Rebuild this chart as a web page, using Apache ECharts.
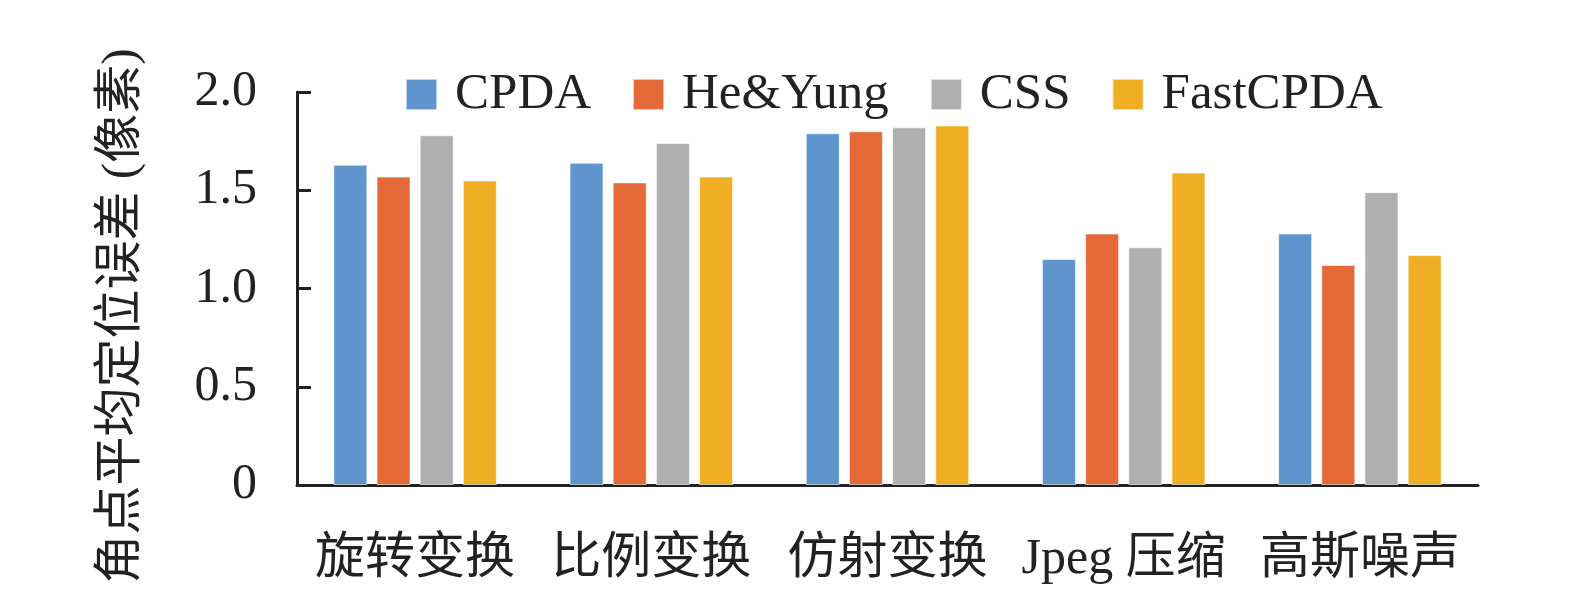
<!DOCTYPE html>
<html>
<head>
<meta charset="utf-8">
<script src="https://cdn.jsdelivr.net/npm/echarts@6/dist/echarts.min.js"></script>
<style>
  html, body { margin: 0; padding: 0; background: #fff; }
  #main { width: 1575px; height: 591px; }
</style>
</head>
<body>
<div id="main"></div>
<script>
var categories = ['旋转变换', '比例变换', '仿射变换', 'Jpeg 压缩', '高斯噪声'];
var seriesNames = ['CPDA', 'He&Yung', 'CSS', 'FastCPDA'];
var cpda     = [1.63, 1.64, 1.79, 1.15, 1.28];
var heYung   = [1.57, 1.54, 1.80, 1.28, 1.12];
var css      = [1.78, 1.74, 1.82, 1.21, 1.49];
var fastCpda = [1.55, 1.57, 1.83, 1.59, 1.17];
var yTicks = ['0', '0.5', '1.0', '1.5', '2.0'];

var colors = ['#5f94cc', '#e36936', '#afafaf', '#f0ae25'];
var font = "'Liberation Serif', 'Times New Roman', 'Noto Sans CJK SC', serif";

var myChart = echarts.init(document.getElementById('main'));

function barSeries(name, data, i) {
    return {
        name: name,
        type: 'bar',
        data: data,
        barWidth: 34,
        barGap: '27%',
        itemStyle: { color: colors[i], borderColor: 'rgba(255,255,255,0.6)', borderWidth: 1 }
    };
}

var option = {
    animation: false,
    color: colors,
    legend: {
        data: seriesNames,
        left: 400,
        top: 64,
        itemWidth: 31,
        itemHeight: 31,
        itemGap: 41,
        icon: 'rect',
        textStyle: { fontFamily: font, fontSize: 51, color: '#222', padding: [0, 0, 0, 13] }
    },
    grid: {
        left: 297,
        right: 97,
        top: 92,
        bottom: 106
    },
    graphic: [{
        type: 'text',
        rotation: Math.PI / 2,
        x: 122,
        y: 316,
        style: {
            text: '角点平均定位误差 (像素)',
            font: "49px 'Liberation Serif', 'Noto Sans CJK SC', serif",
            fill: '#222',
            textAlign: 'center',
            textVerticalAlign: 'middle'
        }
    }],
    xAxis: {
        type: 'category',
        data: categories,
        axisLine: { lineStyle: { color: '#222', width: 3 } },
        axisTick: { show: false },
        axisLabel: { fontFamily: font, fontSize: 50, color: '#222', margin: 50, interval: 0 }
    },
    yAxis: {
        type: 'value',
        min: 0,
        max: 2,
        interval: 0.5,
        axisLine: { show: true, lineStyle: { color: '#222', width: 3 } },
        axisTick: { show: true, inside: true, length: 14, lineStyle: { color: '#222', width: 3 } },
        splitLine: { show: false },
        axisLabel: {
            fontFamily: font,
            fontSize: 50,
            color: '#222',
            margin: 40,
            formatter: function (v) { return yTicks[Math.round(v / 0.5)]; }
        }
    },
    series: [
        barSeries(seriesNames[0], cpda, 0),
        barSeries(seriesNames[1], heYung, 1),
        barSeries(seriesNames[2], css, 2),
        barSeries(seriesNames[3], fastCpda, 3)
    ]
};
myChart.setOption(option);
</script>
</body>
</html>
